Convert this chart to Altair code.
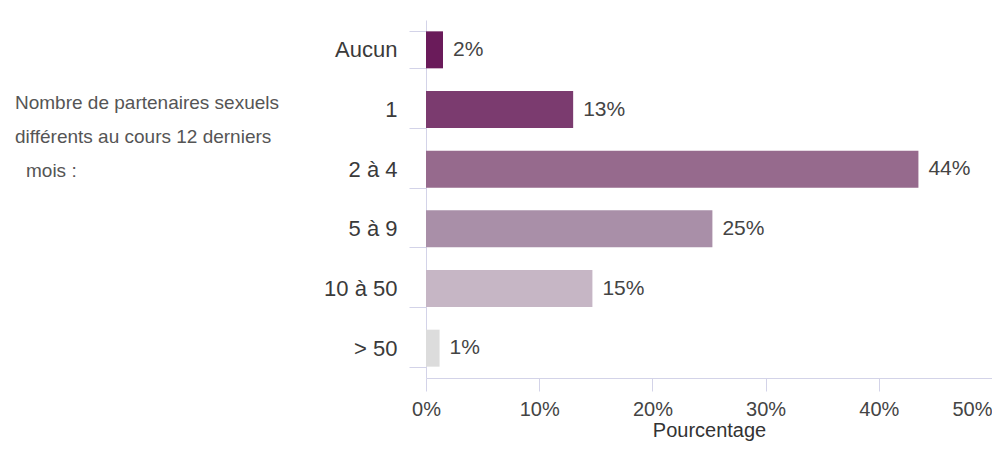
import altair as alt
import pandas as pd

categories = ["Aucun", "1", "2 à 4", "5 à 9", "10 à 50", "> 50"]
values = [1.5, 13.0, 43.5, 25.3, 14.7, 1.2]
value_labels = ["2%", "13%", "44%", "25%", "15%", "1%"]
tick_values = [0, 10, 20, 30, 40, 50]
side_title_top = ["Nombre de partenaires sexuels", "différents au cours 12 derniers"]
side_title_last = "mois :"
x_title = "Pourcentage"

bar_colors = ["#6a1b5a", "#7b3b6f", "#966a8d", "#a98fa8", "#c6b6c5", "#dcdcdc"]

FONT = "Liberation Sans"
AXIS_COLOR = "#d3d3e8"

df = pd.DataFrame({"cat": categories, "val": values, "lab": value_labels})

y_enc = alt.Y(
    "cat:N",
    sort=categories,
    scale=alt.Scale(paddingInner=0.38, paddingOuter=0.19),
    axis=alt.Axis(
        title=None,
        tickBand="extent",
        tickSize=17,
        labelPadding=12,
        labelFontSize=22,
        labelColor="#3a3a3a",
        labelFont=FONT,
        domainColor=AXIS_COLOR,
        tickColor=AXIS_COLOR,
        grid=False,
    ),
)

x_enc = alt.X(
    "val:Q",
    scale=alt.Scale(domain=[0, 50], nice=False),
    axis=alt.Axis(
        title=x_title,
        values=tick_values,
        labelExpr="datum.value + '%'",
        labelAlign=alt.expr("datum.value == 50 ? 'right' : 'center'"),
        tickSize=13,
        labelPadding=8,
        labelFontSize=20,
        labelColor="#444444",
        labelFont=FONT,
        titleFont=FONT,
        titleFontSize=20,
        titleFontWeight="normal",
        titleColor="#333333",
        titlePadding=1,
        domainColor=AXIS_COLOR,
        tickColor=AXIS_COLOR,
        grid=False,
    ),
)

bars = alt.Chart(df).mark_bar().encode(
    x=x_enc,
    y=y_enc,
    color=alt.Color("cat:N", scale=alt.Scale(domain=categories, range=bar_colors), legend=None),
)

labels = alt.Chart(df).mark_text(
    align="left", baseline="middle", dx=10, fontSize=21, font=FONT, color="#444444"
).encode(
    x="val:Q",
    y=alt.Y("cat:N", sort=categories),
    text="lab:N",
)

one = pd.DataFrame({"k": [0]})
side_top = alt.Chart(one).mark_text(
    align="left", baseline="alphabetic", fontSize=19, font=FONT, color="#555555", lineHeight=34
).encode(
    x=alt.value(-411),
    y=alt.value(89),
    text=alt.value(side_title_top),
)
side_last = alt.Chart(one).mark_text(
    align="left", baseline="alphabetic", fontSize=19, font=FONT, color="#555555"
).encode(
    x=alt.value(-400),
    y=alt.value(157),
    text=alt.value(side_title_last),
)

chart = alt.layer(bars, labels, side_top, side_last).properties(
    width=566,
    height=358,
    autosize=alt.AutoSizeParams(type="none"),
    padding={"left": 418, "top": 12, "right": 0, "bottom": 65},
).configure_view(stroke=None)

chart.save("out.html", embed_options={"renderer": "svg", "actions": False})
